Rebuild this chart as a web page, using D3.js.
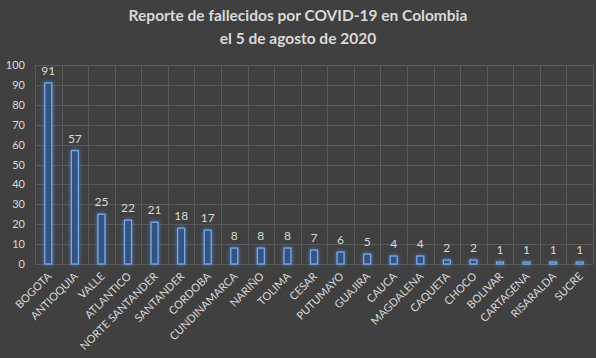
<!DOCTYPE html>
<html><head><meta charset="utf-8">
<script src="https://cdn.jsdelivr.net/npm/d3@7"></script>
<style>
html,body{margin:0;padding:0;background:#404040;}
svg{display:block;}
</style></head>
<body><svg id="c" width="596" height="358"></svg>
<script>
const categories = ["BOGOTA","ANTIOQUIA","VALLE","ATLANTICO","NORTE SANTANDER","SANTANDER","CORDOBA","CUNDINAMARCA","NARIÑO","TOLIMA","CESAR","PUTUMAYO","GUAJIRA","CAUCA","MAGDALENA","CAQUETA","CHOCO","BOLIVAR","CARTAGENA","RISARALDA","SUCRE"];
const values = [91,57,25,22,21,18,17,8,8,8,7,6,5,4,4,2,2,1,1,1,1];
const yTicks = [0,10,20,30,40,50,60,70,80,90,100];
const titleLines = ["Reporte de fallecidos por COVID-19 en Colombia","el 5 de agosto de 2020"];

const svg = d3.select("#c");
const W = 596, H = 358;
const m = {left:35, right:3, top:65, bottom:94};
const font = "Lato, 'Open Sans', sans-serif";
svg.append("rect").attr("width",W).attr("height",H).attr("fill","#404040");

const defs = svg.append("defs");
const f = defs.append("filter").attr("id","glow").attr("x","-100%").attr("y","-50%").attr("width","300%").attr("height","200%");
f.append("feGaussianBlur").attr("in","SourceAlpha").attr("stdDeviation",2).attr("result","b");
f.append("feFlood").attr("flood-color","#4a86d8").attr("flood-opacity",0.9).attr("result","c");
f.append("feComposite").attr("in","c").attr("in2","b").attr("operator","in").attr("result","g");
const mg = f.append("feMerge");
mg.append("feMergeNode").attr("in","g");
mg.append("feMergeNode").attr("in","SourceGraphic");

const x = d3.scaleBand().domain(categories).range([m.left, W-m.right]).padding(0);
const y = d3.scaleLinear().domain([0,100]).range([H-m.bottom, m.top]);

// grid
const g = svg.append("g");
g.selectAll("line.h").data(yTicks).join("line")
 .attr("x1",m.left).attr("x2",W-m.right)
 .attr("y1",d=>Math.round(y(d))+0.5).attr("y2",d=>Math.round(y(d))+0.5)
 .attr("stroke","#5a5a5a").attr("stroke-width",1);
const bounds = categories.map(c=>x(c)).concat([W-m.right]);
g.selectAll("line.v").data(bounds).join("line")
 .attr("x1",d=>Math.round(d)+0.5).attr("x2",d=>Math.round(d)+0.5)
 .attr("y1",y(100)).attr("y2",y(0))
 .attr("stroke","#5a5a5a").attr("stroke-width",1);

// y axis labels
svg.append("g").selectAll("text").data(yTicks).join("text")
 .attr("x",25).attr("y",d=>y(d)+4)
 .attr("text-anchor","end").attr("fill","#d9d9d9")
 .attr("font-family",font).attr("font-size",11).text(d=>d);

// bars
const bw = 7;
svg.append("g").attr("filter","url(#glow)").selectAll("rect").data(values).join("rect")
 .attr("x",(d,i)=>x(categories[i])+x.bandwidth()/2-bw/2)
 .attr("y",d=>y(d))
 .attr("width",bw)
 .attr("height",d=>y(0)-y(d))
 .attr("fill","#36537c")
 .attr("stroke","#78a8e8").attr("stroke-width",1.3);

// value labels
svg.append("g").selectAll("text").data(values).join("text")
 .attr("x",(d,i)=>x(categories[i])+x.bandwidth()/2)
 .attr("y",d=>y(d)-8)
 .attr("text-anchor","middle").attr("fill","#d9d9d9")
 .attr("font-family",font).attr("font-size",12).text(d=>d);

// x labels
svg.append("g").selectAll("text").data(categories).join("text")
 .attr("transform",d=>`translate(${x(d)+x.bandwidth()/2+4},${y(0)+13}) rotate(-45)`)
 .attr("text-anchor","end").attr("fill","#d9d9d9")
 .attr("font-family",font).attr("font-size",11).text(d=>d);

// title
svg.append("g").selectAll("text").data(titleLines).join("text")
 .attr("x",W/2).attr("y",(d,i)=>21+i*23)
 .attr("text-anchor","middle").attr("fill","#d9d9d9")
 .attr("font-family",font).attr("font-weight","bold").attr("font-size",15.5).text(d=>d);
</script></body></html>
